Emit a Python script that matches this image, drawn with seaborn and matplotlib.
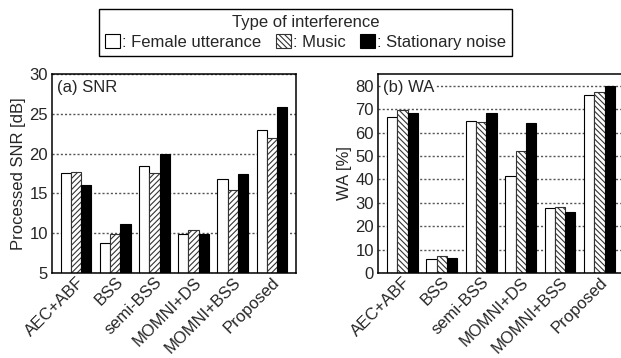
import pandas as pd
import seaborn as sns
import matplotlib.pyplot as plt
from matplotlib.patches import Patch

methods = ['AEC+ABF', 'BSS', 'semi-BSS', 'MOMNI+DS', 'MOMNI+BSS', 'Proposed']
interference = ['Female utterance', 'Music', 'Stationary noise']

snr_female = [17.5, 8.8, 18.4, 9.9, 16.8, 22.9]
snr_music = [17.7, 9.9, 17.5, 10.4, 15.4, 21.9]
snr_noise = [16.1, 11.1, 20.0, 9.9, 17.4, 25.9]

wa_female = [66.8, 6.0, 64.8, 41.3, 27.7, 76.0]
wa_music = [69.7, 7.2, 64.6, 52.1, 28.1, 77.1]
wa_noise = [68.5, 6.4, 68.5, 64.2, 25.9, 79.7]


def to_long(female, music, noise):
    rows = []
    for vals, kind in zip([female, music, noise], interference):
        for m, v in zip(methods, vals):
            rows.append({'method': m, 'kind': kind, 'value': v})
    return pd.DataFrame(rows)


snr = to_long(snr_female, snr_music, snr_noise)
wa = to_long(wa_female, wa_music, wa_noise)

sns.set_style('white')
plt.rcParams['font.family'] = ['Liberation Sans', 'DejaVu Sans']
plt.rcParams['hatch.color'] = '#6e6e6e'
plt.rcParams['hatch.linewidth'] = 0.8

fig = plt.figure(figsize=(6.21, 3.58), dpi=100)
ax1 = fig.add_axes([0.0837, 0.2374, 0.393, 0.556])
ax2 = fig.add_axes([0.6087, 0.2374, 0.396, 0.556])

palette = ['white', 'white', 'black']


def draw(ax, df, hatch, ylim, yticks, ylabel, title, boxed):
    sns.barplot(data=df, x='method', y='value', hue='kind', order=methods,
                hue_order=interference, palette=palette, width=0.78, gap=0,
                edgecolor='black', linewidth=0.8, legend=False, ax=ax, zorder=2)
    n = len(methods)
    for i, p in enumerate(ax.patches[:3 * n]):
        if i // n == 1:
            p.set_hatch(hatch)
            p.set_edgecolor('#333333')
    ax.set_xlim(-0.62, 5.62)
    ax.set_ylim(*ylim)
    ax.set_yticks(yticks)
    ax.yaxis.grid(True, color='#555555', linestyle=(0, (1.5, 1.5)), linewidth=1.0)
    ax.set_axisbelow(True)
    ax.set_xlabel('')
    ax.set_ylabel(ylabel, fontsize=12, labelpad=2)
    ax.set_xticks(range(n))
    ax.set_xticklabels(methods, rotation=45, ha='right', rotation_mode='anchor', fontsize=12)
    ax.tick_params(axis='x', length=0, pad=1)
    ax.tick_params(axis='y', length=0, pad=3, labelsize=12)
    for s in ax.spines.values():
        s.set_color('black')
        s.set_linewidth(1.1)
    bbox = dict(facecolor='white', edgecolor='none', pad=1) if boxed else None
    ax.text(0.02, 0.97, title, transform=ax.transAxes, ha='left', va='top',
            fontsize=12, bbox=bbox, zorder=3)


draw(ax1, snr, '//////', (5, 30), [5, 10, 15, 20, 25, 30], 'Processed SNR [dB]', '(a) SNR', False)
draw(ax2, wa, '\\\\\\\\\\\\', (0, 85), [0, 10, 20, 30, 40, 50, 60, 70, 80], 'WA [%]', '(b) WA', True)

handles = [Patch(facecolor='white', edgecolor='black', linewidth=0.8),
           Patch(facecolor='white', edgecolor='#333333', linewidth=0.8, hatch='\\\\\\\\\\\\'),
           Patch(facecolor='black', edgecolor='black', linewidth=0.8)]
labels = [': ' + k for k in interference]
leg = fig.legend(handles, labels, loc='upper center', bbox_to_anchor=(0.492, 0.997), ncol=3,
                 title='Type of interference', fontsize=12, title_fontsize=12,
                 handlelength=0.9, handleheight=0.9, handletextpad=0.1, columnspacing=0.9,
                 borderpad=0.35, labelspacing=0.25, fancybox=False, edgecolor='black',
                 framealpha=1)
leg.get_frame().set_linewidth(1.0)

fig.savefig('out.png', dpi=100)
